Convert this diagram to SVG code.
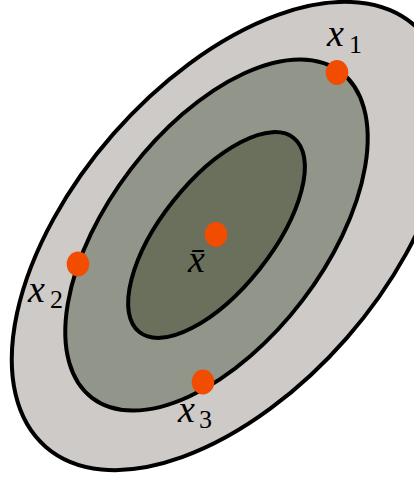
<svg xmlns="http://www.w3.org/2000/svg" width="414" height="477" viewBox="0 0 414 477">
<style>
.ring{stroke:#000;stroke-width:4}
.dot{fill:#f24c00}
.lbl{font-family:"Liberation Serif","DejaVu Serif",serif;font-style:italic;font-size:38px;fill:#000}
.sub{font-family:"Liberation Serif","DejaVu Serif",serif;font-size:26px;fill:#000}
</style>
<rect width="414" height="477" fill="#fff"/>
<g id="outer"><ellipse class="ring" cx="230" cy="236" rx="280" ry="155" fill="#cecac7" transform="rotate(-48.8 230 236)"/></g>
<g id="middle"><ellipse class="ring" cx="216.5" cy="235" rx="205" ry="108" fill="#929589" transform="rotate(-52.6 216.5 235)"/></g>
<g id="inner"><ellipse class="ring" cx="216.5" cy="235" rx="124" ry="55" fill="#6b705c" transform="rotate(-51.5 216.5 235)"/></g>
<g id="connectors"></g>
<g id="p1"><ellipse class="dot" cx="337" cy="72.5" rx="11.3" ry="12.5"/><text class="lbl" x="327" y="46">x</text><text class="sub" x="349" y="52.5">1</text></g>
<g id="p2"><ellipse class="dot" cx="78" cy="264" rx="11.3" ry="12.5"/><text class="lbl" x="28" y="301.5">x</text><text class="sub" x="50" y="308">2</text></g>
<g id="p3"><ellipse class="dot" cx="203" cy="382" rx="11.3" ry="12.5"/><text class="lbl" x="178" y="421.5">x</text><text class="sub" x="199" y="428">3</text></g>
<g id="mean"><ellipse class="dot" cx="216" cy="234.5" rx="11.3" ry="12.5"/><text class="lbl" x="188" y="271.5">x̄</text></g>
</svg>
